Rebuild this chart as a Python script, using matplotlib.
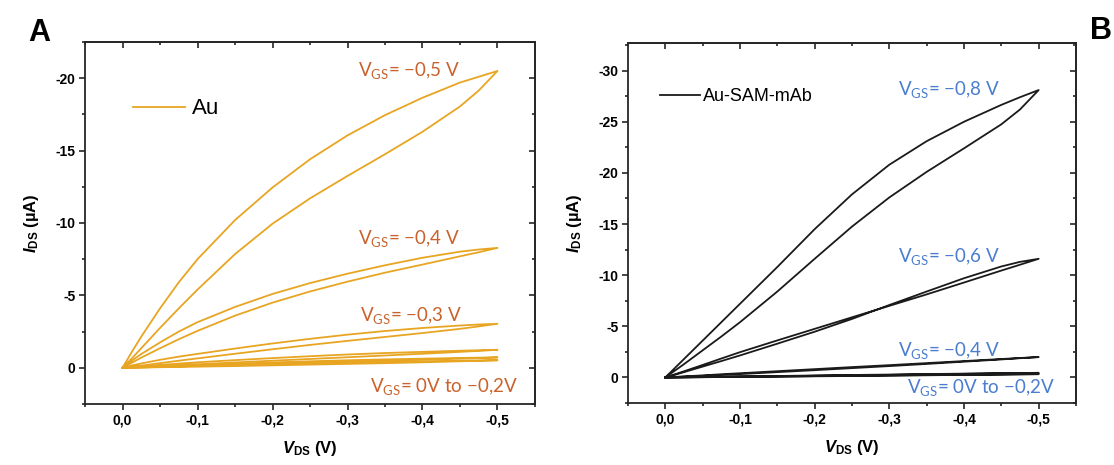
import matplotlib
matplotlib.use("Agg")
import matplotlib.pyplot as plt
from matplotlib.ticker import MultipleLocator, FuncFormatter
from matplotlib.lines import Line2D

plt.rcParams['font.family'] = ['Liberation Sans', 'DejaVu Sans']
plt.rcParams['mathtext.fontset'] = 'custom'
plt.rcParams['mathtext.it'] = 'Liberation Sans:italic:bold'
plt.rcParams['mathtext.rm'] = 'Liberation Sans:bold'
plt.rcParams['mathtext.bf'] = 'Liberation Sans:bold'

# ---------------- data ----------------
# drain voltage grid (V) for each sweep branch
vds = [0.0, -0.0125, -0.025, -0.05, -0.075, -0.1, -0.15, -0.2, -0.25, -0.3,
       -0.35, -0.4, -0.45, -0.475, -0.5]

# Panel A (Au) : IDS (uA), forward / backward branches of each loop
a_m05_up = [0, -1.1, -2.15, -4.1, -5.9, -7.5, -10.2, -12.45, -14.4, -16.05, -17.45, -18.65, -19.7, -20.1, -20.5]
a_m05_lo = [0, -0.65, -1.35, -2.75, -4.1, -5.4, -7.85, -9.95, -11.7, -13.25, -14.75, -16.3, -18.05, -19.15, -20.5]
a_m04_up = [0, -0.5, -0.95, -1.75, -2.5, -3.15, -4.2, -5.1, -5.85, -6.5, -7.08, -7.6, -8.02, -8.17, -8.28]
a_m04_lo = [0, -0.35, -0.7, -1.35, -1.97, -2.55, -3.6, -4.5, -5.27, -5.95, -6.57, -7.13, -7.7, -7.98, -8.28]
a_m03_up = [0, -0.16, -0.3, -0.55, -0.77, -0.96, -1.33, -1.68, -2.0, -2.29, -2.54, -2.75, -2.92, -2.99, -3.04]
a_m03_lo = [0, -0.07, -0.15, -0.32, -0.49, -0.65, -0.97, -1.28, -1.58, -1.86, -2.13, -2.4, -2.69, -2.86, -3.04]
a_m02_up = [0, -0.05, -0.1, -0.2, -0.29, -0.38, -0.53, -0.67, -0.8, -0.92, -1.02, -1.1, -1.18, -1.21, -1.24]
a_m02_lo = [0, -0.03, -0.05, -0.11, -0.18, -0.24, -0.37, -0.49, -0.61, -0.73, -0.85, -0.97, -1.1, -1.17, -1.24]
a_m01_up = [0, -0.03, -0.05, -0.1, -0.15, -0.2, -0.29, -0.37, -0.45, -0.52, -0.58, -0.63, -0.68, -0.7, -0.72]
a_m01_lo = [0, -0.02, -0.03, -0.06, -0.1, -0.13, -0.2, -0.27, -0.34, -0.41, -0.48, -0.55, -0.63, -0.67, -0.72]
a_000_up = [0, -0.02, -0.03, -0.06, -0.1, -0.13, -0.19, -0.25, -0.31, -0.36, -0.41, -0.45, -0.49, -0.51, -0.52]
a_000_lo = [0, -0.01, -0.02, -0.04, -0.06, -0.08, -0.12, -0.17, -0.22, -0.27, -0.32, -0.38, -0.45, -0.48, -0.52]

# Panel B (Au-SAM-mAb)
b_m08_up = [0, -0.9, -1.8, -3.6, -5.4, -7.2, -10.8, -14.5, -17.9, -20.8, -23.1, -25.0, -26.65, -27.4, -28.1]
b_m08_lo = [0, -0.65, -1.3, -2.65, -4.0, -5.4, -8.4, -11.6, -14.75, -17.6, -20.1, -22.4, -24.75, -26.2, -28.1]
b_m06_up = [0, -0.3, -0.6, -1.22, -1.85, -2.47, -3.62, -4.75, -5.88, -7.0, -8.12, -9.28, -10.45, -11.02, -11.6]
b_m06_lo = [0, -0.25, -0.52, -1.06, -1.6, -2.15, -3.3, -4.47, -5.72, -7.08, -8.4, -9.7, -10.85, -11.3, -11.6]
b_m04_up = [0, -0.05, -0.1, -0.2, -0.31, -0.41, -0.61, -0.81, -1.01, -1.2, -1.4, -1.6, -1.8, -1.9, -1.99]
b_m04_lo = [0, -0.03, -0.07, -0.15, -0.24, -0.33, -0.52, -0.71, -0.91, -1.11, -1.32, -1.54, -1.76, -1.88, -1.99]
b_m02_up = [0, -0.01, -0.03, -0.05, -0.08, -0.1, -0.14, -0.19, -0.24, -0.28, -0.33, -0.37, -0.41, -0.43, -0.45]
b_m02_lo = [0, -0.01, -0.02, -0.04, -0.06, -0.08, -0.12, -0.16, -0.2, -0.25, -0.3, -0.35, -0.4, -0.42, -0.45]
b_m01_up = [0, -0.01, -0.02, -0.04, -0.06, -0.08, -0.12, -0.16, -0.2, -0.24, -0.28, -0.31, -0.35, -0.37, -0.38]
b_m01_lo = [0, -0.01, -0.01, -0.03, -0.05, -0.06, -0.1, -0.13, -0.17, -0.21, -0.25, -0.29, -0.34, -0.36, -0.38]
b_000_up = [0, -0.01, -0.02, -0.03, -0.05, -0.07, -0.1, -0.13, -0.17, -0.2, -0.23, -0.26, -0.29, -0.31, -0.32]
b_000_lo = [0, -0.01, -0.01, -0.02, -0.04, -0.05, -0.08, -0.11, -0.14, -0.18, -0.21, -0.25, -0.28, -0.3, -0.32]

loops_a = [(a_m05_up, a_m05_lo), (a_m04_up, a_m04_lo), (a_m03_up, a_m03_lo),
           (a_m02_up, a_m02_lo), (a_m01_up, a_m01_lo), (a_000_up, a_000_lo)]
loops_b = [(b_m08_up, b_m08_lo), (b_m06_up, b_m06_lo), (b_m04_up, b_m04_lo),
           (b_m02_up, b_m02_lo), (b_m01_up, b_m01_lo), (b_000_up, b_000_lo)]

labels_a = ['V$_\\mathregular{GS}$= \u22120,5 V', 'V$_\\mathregular{GS}$= \u22120,4 V',
            'V$_\\mathregular{GS}$= \u22120,3 V', 'V$_\\mathregular{GS}$= 0V to \u22120,2V']
labels_b = ['V$_\\mathregular{GS}$= \u22120,8 V', 'V$_\\mathregular{GS}$= \u22120,6 V',
            'V$_\\mathregular{GS}$= \u22120,4 V', 'V$_\\mathregular{GS}$= 0V to \u22120,2V']
lab_pos_a = [(-0.45, -20.15), (-0.45, -8.55), (-0.453, -3.25), (-0.527, 1.67)]
lab_pos_b = [(-0.448, -27.6), (-0.448, -11.27), (-0.448, -2.05), (-0.522, 1.5)]

xticks = [0.0, -0.1, -0.2, -0.3, -0.4, -0.5]
yticks_a = [0, -5, -10, -15, -20]
yticks_b = [0, -5, -10, -15, -20, -25, -30]

COL_A = '#E8A522'
TXT_A = '#C9622C'
COL_B = '#1a1a1a'
TXT_B = '#4A7DCF'
FRAME = '#262626'

fig = plt.figure(figsize=(11.14, 4.65), dpi=100)
ax_a = fig.add_axes([85/1114, 1-404/465, 450/1114, 362/465])
ax_b = fig.add_axes([628/1114, 1-403/465, 448/1114, 360/465])


def xfmt(v, _):
    if abs(v) < 1e-9:
        return '0,0'
    return ('%.1f' % v).replace('.', ',')


def yfmt(v, _):
    if abs(v) < 1e-9:
        return '0'
    return '%d' % round(v)


def style(ax, ylim, yticks):
    ax.set_xlim(0.05, -0.55)
    ax.set_ylim(*ylim)
    ax.set_xticks(xticks)
    ax.set_yticks(yticks)
    ax.xaxis.set_minor_locator(MultipleLocator(0.05))
    ax.yaxis.set_minor_locator(MultipleLocator(2.5))
    ax.xaxis.set_major_formatter(FuncFormatter(xfmt))
    ax.yaxis.set_major_formatter(FuncFormatter(yfmt))
    ax.tick_params(which='both', direction='out', width=1.2, color=FRAME,
                   labelsize=10, pad=3)
    ax.tick_params(which='major', length=4)
    ax.tick_params(which='minor', length=2.5)
    for lab in ax.get_xticklabels() + ax.get_yticklabels():
        lab.set_fontweight('bold')
    for sp in ax.spines.values():
        sp.set_linewidth(1.3)
        sp.set_color(FRAME)
    top = ax.secondary_xaxis('top')
    top.set_xticks(xticks)
    top.xaxis.set_minor_locator(MultipleLocator(0.05))
    top.tick_params(which='both', direction='in', labeltop=False, width=1.2, color=FRAME)
    top.tick_params(which='major', length=4)
    top.tick_params(which='minor', length=2.5)
    top.spines['top'].set_linewidth(1.3)
    top.spines['top'].set_color(FRAME)
    right = ax.secondary_yaxis('right')
    right.set_yticks(yticks)
    right.yaxis.set_minor_locator(MultipleLocator(2.5))
    right.tick_params(which='both', direction='in', labelright=False, width=1.2, color=FRAME)
    right.tick_params(which='major', length=4)
    right.tick_params(which='minor', length=2.5)
    right.spines['right'].set_linewidth(1.3)
    right.spines['right'].set_color(FRAME)
    ax.set_xlabel('$V_\\mathregular{DS}$ (V)', fontsize=12, fontweight='bold', labelpad=8)
    ax.set_ylabel('$I_\\mathregular{DS}$ (\u00b5A)', fontsize=12, fontweight='bold', labelpad=10)


for up, lo in loops_a:
    ax_a.plot(vds + vds[::-1], up + lo[::-1], color=COL_A, lw=1.3,
              solid_joinstyle='round')
for up, lo in loops_b:
    ax_b.plot(vds + vds[::-1], up + lo[::-1], color=COL_B, lw=1.3,
              solid_joinstyle='round')

style(ax_a, (2.5, -22.5), yticks_a)
style(ax_b, (2.5, -32.7), yticks_b)

for txt, (x, y) in zip(labels_a, lab_pos_a):
    ax_a.text(x, y, txt, color=TXT_A, fontsize=13.5, ha='right', va='baseline',
              family=['Lato', 'DejaVu Sans'])
for txt, (x, y) in zip(labels_b, lab_pos_b):
    ax_b.text(x, y, txt, color=TXT_B, fontsize=13.5, ha='right', va='baseline',
              family=['Lato', 'DejaVu Sans'])

ax_a.legend([Line2D([], [], color=COL_A, lw=1.3)], ['Au'], loc='center left',
            bbox_to_anchor=(0.1067, 0.815), frameon=False, fontsize=16,
            handlelength=2.35, handletextpad=0.32, borderpad=0, borderaxespad=0)
ax_b.legend([Line2D([], [], color=COL_B, lw=1.3)], ['Au-SAM-mAb'], loc='center left',
            bbox_to_anchor=(0.0714, 0.851), frameon=False, fontsize=13,
            handlelength=2.24, handletextpad=0.16, borderpad=0, borderaxespad=0)

fig.text(28/1114, 1-18/465, 'A', fontsize=22, fontweight='bold', ha='left', va='top')
fig.text(1090/1114, 1-16/465, 'B', fontsize=22, fontweight='bold', ha='left', va='top')

fig.savefig('out.png', dpi=100)
